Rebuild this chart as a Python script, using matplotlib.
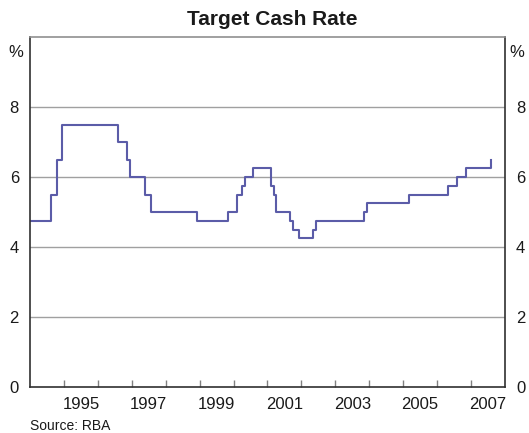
import pandas as pd
import numpy as np
import matplotlib.pyplot as plt

plt.rcParams['font.family'] = ['Liberation Sans', 'DejaVu Sans']

# Target cash rate changes (date of change, new rate %)
dates = ['1994-01-01', '1994-08-17', '1994-10-24', '1994-12-14',
         '1996-07-31', '1996-11-06', '1996-12-11', '1997-05-23',
         '1997-07-30', '1998-12-02', '1999-11-03', '2000-02-02',
         '2000-04-05', '2000-05-03', '2000-08-02', '2001-02-07',
         '2001-03-07', '2001-04-04', '2001-09-05', '2001-10-03',
         '2001-12-05', '2002-05-08', '2002-06-05', '2003-11-05',
         '2003-12-03', '2005-03-02', '2006-05-03', '2006-08-02',
         '2006-11-08', '2007-08-08']
rates = [4.75, 5.50, 6.50, 7.50,
         7.00, 6.50, 6.00, 5.50,
         5.00, 4.75, 5.00, 5.50,
         5.75, 6.00, 6.25, 5.75,
         5.50, 5.00, 4.75, 4.50,
         4.25, 4.50, 4.75, 5.00,
         5.25, 5.50, 5.75, 6.00,
         6.25, 6.50]
year_labels = ['1995', '1997', '1999', '2001', '2003', '2005', '2007']

d = pd.to_datetime(dates)
x = d.year + (d.dayofyear - 1) / 365.25

fig = plt.figure(figsize=(5.29, 4.33), dpi=100)
ax = fig.add_axes([0.0567, 0.1062, 0.8979, 0.8083])

ax.step(x, rates, where='post', color='#5b5ca8', lw=1.5)

ax.set_xlim(1994, 2008)
ax.set_ylim(0, 10)

# horizontal grid
for yv in [2, 4, 6, 8]:
    ax.axhline(yv, color='#a0a0a0', lw=1, zorder=0)

# year ticks (marks) at year starts, labels centred mid-year
ax.set_xticks(np.arange(1995, 2008))
ax.set_xticklabels([])
ax.tick_params(axis='x', which='major', direction='in', length=5,
               color='#808080', width=1)
ax.set_xticks([int(y) + 0.5 for y in year_labels], minor=True)
ax.set_xticklabels(year_labels, minor=True)
ax.tick_params(axis='x', which='minor', length=0, labelsize=12, pad=7,
               labelcolor='#1a1a1a')

ax.set_yticks([0, 2, 4, 6, 8])
ax.tick_params(axis='y', length=0, labelsize=12, pad=8, labelcolor='#1a1a1a',
               labelright=True, labelleft=True)

for s in ['left', 'right', 'bottom']:
    ax.spines[s].set_color('#303030')
    ax.spines[s].set_linewidth(1.2)
ax.spines['top'].set_color('#909090')
ax.spines['top'].set_linewidth(1.2)

ax.text(-0.03, 0.955, '%', transform=ax.transAxes, ha='center', va='center',
        fontsize=12, color='#1a1a1a')
ax.text(1.025, 0.955, '%', transform=ax.transAxes, ha='center', va='center',
        fontsize=12, color='#1a1a1a')

fig.text(0.515, 0.955, 'Target Cash Rate', ha='center', va='center',
         fontsize=15, fontweight='bold', color='#1a1a1a')
fig.text(0.057, 0.017, 'Source: RBA', ha='left', va='center',
         fontsize=10, color='#1a1a1a')

fig.savefig('out.png', dpi=100)
